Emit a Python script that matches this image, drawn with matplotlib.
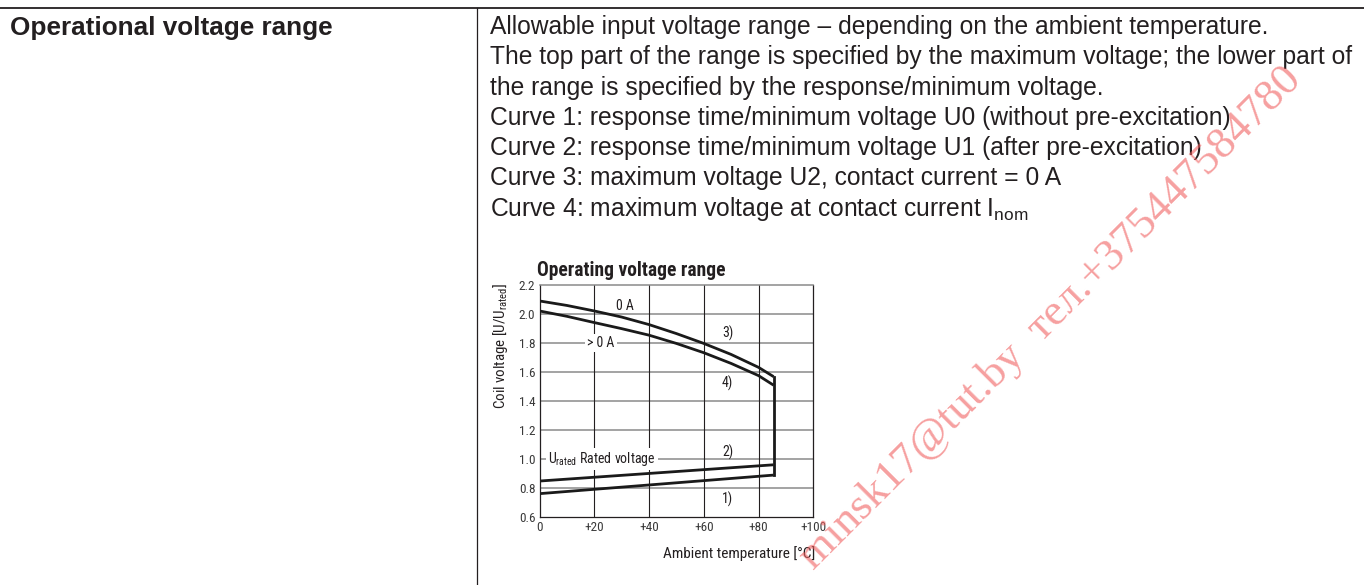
import matplotlib
matplotlib.use('Agg')
import matplotlib.pyplot as plt

# ---------------- data ----------------
temp_upper = [0, 10, 20, 30, 40, 50, 60, 70, 80, 85.5]
curve3_0A = [2.09, 2.059, 2.021, 1.979, 1.927, 1.865, 1.797, 1.721, 1.632, 1.568]
curve4_gt0A = [2.021, 1.984, 1.941, 1.899, 1.854, 1.797, 1.733, 1.659, 1.575, 1.509]
temp_lower = [0, 85.5]
curve2_U1 = [0.848, 0.960]
curve1_U0 = [0.761, 0.889]

x_ticks = [0, 20, 40, 60, 80, 100]
x_tick_labels = ['0', '+20', '+40', '+60', '+80', '+100']
y_ticks = [0.6, 0.8, 1.0, 1.2, 1.4, 1.6, 1.8, 2.0, 2.2]
y_tick_labels = ['0.6', '0.8', '1.0', '1.2', '1.4', '1.6', '1.8', '2.0', '2.2']

left_title = 'Operational voltage range'
desc_lines = [
    'Allowable input voltage range \u2013 depending on the ambient temperature.',
    'The top part of the range is specified by the maximum voltage; the lower part of',
    'the range is specified by the response/minimum voltage.',
    'Curve 1: response time/minimum voltage U0 (without pre-excitation)',
    'Curve 2: response time/minimum voltage U1 (after pre-excitation)',
    'Curve 3: maximum voltage U2, contact current = 0 A',
    r'Curve 4: maximum voltage at contact current I$_{\mathregular{nom}}$',
]
chart_title = 'Operating voltage range'
watermark = 'minsk17@tut.by  \u0442\u0435\u043b.+375447584780'

# ---------------- layout ----------------
W, H = 1364, 585
fig = plt.figure(figsize=(W / 100, H / 100), dpi=100)
TXT = '#231f20'
BODY = ['Liberation Sans', 'DejaVu Sans']
NARROW = ['Noto Sans Condensed', 'Roboto Condensed', 'Open Sans Condensed',
          'DejaVu Sans Condensed', 'Liberation Sans Narrow', 'Liberation Sans', 'DejaVu Sans']


def fx(x):
    return x / W


def fy(y):
    return 1 - y / H


def fit_width(t, target):
    r = fig.canvas.get_renderer()
    w = t.get_window_extent(r).width
    t.set_fontsize(t.get_fontsize() * target / w)


# table lines
fig.add_artist(plt.Line2D([0, 1], [fy(8), fy(8)], transform=fig.transFigure,
                          color='#231f20', lw=1.3))
fig.add_artist(plt.Line2D([fx(477), fx(477)], [fy(8), 0], transform=fig.transFigure,
                          color='#231f20', lw=0.9))

t = fig.text(fx(10), fy(35), left_title, fontsize=14, fontweight='bold',
             family=BODY, color=TXT, ha='left', va='baseline')
fit_width(t, 323)

desc_texts = []
for i, line in enumerate(desc_lines):
    tt = fig.text(fx(490), fy(34 + i * 30.3), line, fontsize=15, family=BODY,
                  color=TXT, ha='left', va='baseline')
    desc_texts.append(tt)
r = fig.canvas.get_renderer()
w1 = desc_texts[1].get_window_extent(r).width
fs = 15 * 868 / w1
for tt in desc_texts:
    tt.set_fontsize(fs)

# chart
ax = fig.add_axes([fx(539.5), fy(517), (813.3 - 539.5) / W, (517 - 285) / H])
ax.set_xlim(0, 100)
ax.set_ylim(0.6, 2.2)
ax.set_xticks(x_ticks)
ax.set_xticklabels(x_tick_labels)
ax.set_yticks(y_ticks)
ax.set_yticklabels(y_tick_labels)
ax.tick_params(length=0, pad=3, labelsize=9.5, labelcolor='#3a3a3a')
for lab in ax.get_xticklabels() + ax.get_yticklabels():
    lab.set_family(NARROW)

for yv in y_ticks[1:-1]:
    ax.axhline(yv, color='#8a8a8a', lw=1.1, zorder=1)
for xv in x_ticks[1:-1]:
    ax.axvline(xv, color='#231f20', lw=0.8, zorder=1)
for side in ['left', 'bottom', 'right']:
    ax.spines[side].set_color('#231f20')
    ax.spines[side].set_linewidth(0.9)
ax.spines['top'].set_color('#8a8a8a')
ax.spines['top'].set_linewidth(1.1)

lw = 2.0
ax.plot(temp_upper, curve3_0A, color='#1a1a1a', lw=lw, zorder=4, solid_capstyle='butt')
ax.plot(temp_upper, curve4_gt0A, color='#1a1a1a', lw=lw, zorder=4, solid_capstyle='butt')
ax.plot(temp_lower, curve2_U1, color='#1a1a1a', lw=lw, zorder=4, solid_capstyle='butt')
ax.plot(temp_lower, curve1_U0, color='#1a1a1a', lw=lw, zorder=4, solid_capstyle='butt')
ax.plot([temp_upper[-1], temp_upper[-1]], [curve3_0A[-1], curve1_U0[-1]],
        color='#1a1a1a', lw=lw, zorder=4, solid_capstyle='projecting')

lab_kw = dict(family=NARROW, fontsize=10, color='#231f20', zorder=5)
ax.text(31.3, 2.053, '0 A', ha='center', va='center', **lab_kw)
ax.text(22.5, 1.8, '> 0 A', ha='center', va='center',
        bbox=dict(facecolor='white', edgecolor='none', pad=1.5), **lab_kw)
ax.text(68.7, 1.864, '3)', ha='center', va='center', **lab_kw)
ax.text(68.7, 1.52, '4)', ha='center', va='center', **lab_kw)
ax.text(68.7, 1.046, '2)', ha='center', va='center', **lab_kw)
ax.text(68.7, 0.721, '1)', ha='center', va='center', **lab_kw)
ax.text(3.2, 1.0, r'U$_{\mathregular{rated}}$ Rated voltage', ha='left', va='center',
        bbox=dict(facecolor='white', edgecolor='none', pad=1.5), **lab_kw)

ct = fig.text(fx(537), fy(276), chart_title, fontsize=11, fontweight='bold',
              family=NARROW, color=TXT, ha='left', va='baseline')
fit_width(ct, 188)

xl = fig.text(fx(815), fy(558), 'Ambient temperature [\u00b0C]', fontsize=9.5,
              family=NARROW, color=TXT, ha='right', va='baseline')
fit_width(xl, 153)
yl = fig.text(fx(500), fy(283), r'Coil voltage [U/U$_{\mathregular{rated}}$]', fontsize=9.5,
              family=NARROW, color=TXT, ha='center', va='top')
fit_width(yl, 127)
yl.set_rotation(90)

# watermark
wm = fig.text(fx(814), fy(571), watermark, fontsize=24, family='Liberation Serif',
              color='#f06060', alpha=0.6, ha='left', va='baseline')
fit_width(wm, 692)
wm.set_rotation(45)
wm.set_rotation_mode('anchor')

fig.savefig('out.png', dpi=100)
